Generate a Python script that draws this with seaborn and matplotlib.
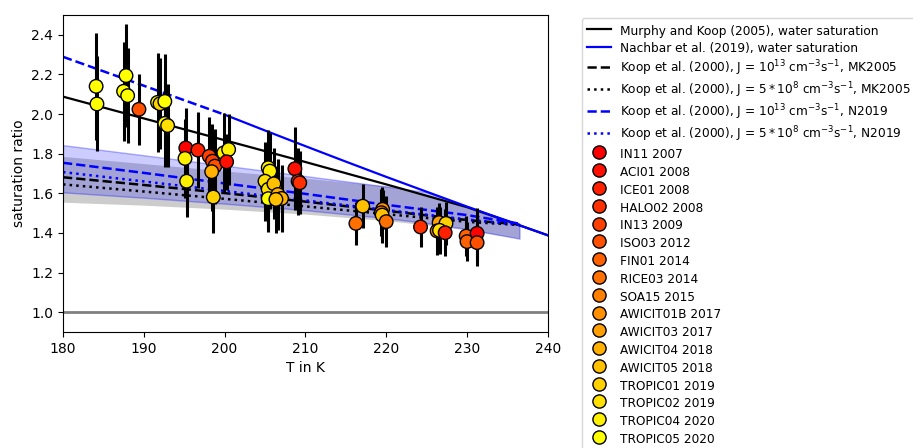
import numpy as np
import pandas as pd
import matplotlib
matplotlib.use("Agg")
import matplotlib.pyplot as plt
import seaborn as sns
from matplotlib.lines import Line2D

# ---------------- data ----------------
campaigns = ["IN11 2007", "ACI01 2008", "ICE01 2008", "HALO02 2008", "IN13 2009",
             "ISO03 2012", "FIN01 2014", "RICE03 2014", "SOA15 2015", "AWICIT01B 2017",
             "AWICIT03 2017", "AWICIT04 2018", "AWICIT05 2018", "TROPIC01 2019",
             "TROPIC02 2019", "TROPIC04 2020", "TROPIC05 2020"]

pt_campaign = [
    "TROPIC05 2020", "TROPIC05 2020",
    "TROPIC05 2020", "TROPIC05 2020", "TROPIC05 2020",
    "ISO03 2012",
    "TROPIC05 2020", "TROPIC01 2019", "TROPIC05 2020", "TROPIC05 2020", "TROPIC02 2019",
    "IN11 2007", "TROPIC04 2020", "TROPIC04 2020",
    "ICE01 2008",
    "IN13 2009", "IN13 2009", "ISO03 2012", "AWICIT04 2018", "TROPIC01 2019",
    "TROPIC04 2020", "TROPIC04 2020", "ACI01 2008",
    "TROPIC04 2020", "TROPIC04 2020", "TROPIC02 2019", "TROPIC02 2019", "TROPIC05 2020",
    "AWICIT05 2018", "AWICIT04 2018", "AWICIT04 2018", "AWICIT05 2018",
    "ACI01 2008", "HALO02 2008", "HALO02 2008",
    "RICE03 2014", "AWICIT05 2018",
    "AWICIT01B 2017", "SOA15 2015", "AWICIT05 2018", "RICE03 2014",
    "HALO02 2008",
    "AWICIT03 2017", "SOA15 2015", "TROPIC01 2019", "TROPIC02 2019", "ICE01 2008",
    "FIN01 2014", "FIN01 2014",
    "IN11 2007", "ISO03 2012",
]
pt_T = [
    184.1, 184.2,
    187.8, 187.5, 188.0,
    189.4,
    191.7, 192.0, 192.6, 192.6, 192.95,
    195.2, 195.1, 195.3,
    196.7,
    198.1, 198.5, 198.8, 198.4, 198.6,
    199.9, 200.5, 200.25,
    205.4, 205.6, 205.0, 205.4, 205.4,
    206.1, 206.6, 207.05, 206.35,
    208.7, 209.1, 209.3,
    216.25, 217.1,
    219.55, 219.4, 219.5, 220.0,
    224.25,
    226.55, 226.3, 227.4, 226.6, 227.3,
    229.9, 230.0,
    231.25, 231.25,
]
pt_S = [
    2.140, 2.051,
    2.194, 2.115, 2.093,
    2.024,
    2.059, 2.052, 2.064, 1.953, 1.942,
    1.829, 1.776, 1.661,
    1.818,
    1.787, 1.762, 1.737, 1.709, 1.581,
    1.804, 1.821, 1.759,
    1.729, 1.712, 1.661, 1.620, 1.573,
    1.648, 1.594, 1.574, 1.569,
    1.724, 1.661, 1.653,
    1.448, 1.535,
    1.519, 1.502, 1.490, 1.457,
    1.430,
    1.452, 1.410, 1.448, 1.413, 1.401,
    1.384, 1.356,
    1.398, 1.351,
]
pt_err = [
    0.27, 0.24,
    0.26, 0.25, 0.24,
    0.18,
    0.25, 0.23, 0.24, 0.22, 0.21,
    0.20, 0.20, 0.18,
    0.19,
    0.20, 0.19, 0.19, 0.20, 0.18,
    0.20, 0.18, 0.14,
    0.19, 0.19, 0.20, 0.20, 0.17,
    0.18, 0.18, 0.17, 0.17,
    0.21, 0.17, 0.16,
    0.11, 0.11,
    0.10, 0.12, 0.14, 0.13,
    0.10,
    0.10, 0.12, 0.11, 0.12, 0.12,
    0.10, 0.10,
    0.13, 0.12,
]

# water saturation lines
mk_T = [180, 190, 200, 210, 220, 230, 235, 240]
mk_S = [2.088, 1.978, 1.868, 1.758, 1.645, 1.530, 1.460, 1.388]
nb_T = [200, 205, 210, 215, 220, 225, 230, 235, 240]
nb_S = [1.997, 1.917, 1.838, 1.760, 1.683, 1.608, 1.533, 1.460, 1.388]
nbx_T = [180, 190, 200]
nbx_S = [2.289, 2.143, 1.997]

# Koop et al. (2000) lines
kmk_hi_T = [180, 190, 200, 210, 220, 230, 236.2]
kmk_hi_S = [1.681, 1.642, 1.601, 1.558, 1.512, 1.465, 1.444]
kmk_lo_T = [180, 190, 200, 210, 220, 230, 236.5]
kmk_lo_S = [1.645, 1.609, 1.572, 1.534, 1.495, 1.456, 1.440]
knb_hi_T = [180, 190, 200, 210, 220, 230, 236.3]
knb_hi_S = [1.754, 1.703, 1.650, 1.597, 1.542, 1.490, 1.448]
knb_lo_T = [180, 190, 200, 210, 220, 230, 236.6]
knb_lo_S = [1.707, 1.660, 1.612, 1.564, 1.516, 1.468, 1.440]

# uncertainty bands
band_T = [180, 190, 200, 210, 220, 225, 230, 236.5]
blue_up = [1.843, 1.792, 1.740, 1.687, 1.634, 1.606, 1.533, 1.447]
blue_lo = [1.605, 1.578, 1.548, 1.515, 1.475, 1.450, 1.420, 1.371]
grey_up = [1.786, 1.750, 1.713, 1.676, 1.638, 1.585, 1.528, 1.445]
grey_lo = [1.555, 1.540, 1.520, 1.495, 1.462, 1.440, 1.415, 1.372]

# ---------------- plot ----------------
fig = plt.figure(figsize=(9.13, 4.48), dpi=100)
ax = fig.add_axes([0.069, 0.259, 0.531, 0.7075])

palette = {c: plt.cm.autumn(i / (len(campaigns) - 1)) for i, c in enumerate(campaigns)}

ax.axhline(1.0, color="grey", lw=2, zorder=1)

ax.fill_between(band_T, grey_lo, grey_up, color="k", alpha=0.2, lw=0, zorder=1)
ax.fill_between(band_T, blue_lo, blue_up, facecolor=(0, 0, 1, 0.2),
                edgecolor=(0, 0, 1, 0.3), lw=1, zorder=1)

sns.lineplot(x=mk_T, y=mk_S, color="k", lw=1.6, ax=ax, zorder=2)
sns.lineplot(x=nb_T, y=nb_S, color="blue", lw=1.6, ax=ax, zorder=2)
sns.lineplot(x=nbx_T, y=nbx_S, color="blue", lw=1.8, linestyle="--", ax=ax, zorder=2)
sns.lineplot(x=kmk_hi_T, y=kmk_hi_S, color="k", lw=1.8, linestyle="--", ax=ax, zorder=2)
sns.lineplot(x=kmk_lo_T, y=kmk_lo_S, color="k", lw=1.8, linestyle=":", ax=ax, zorder=2)
sns.lineplot(x=knb_hi_T, y=knb_hi_S, color="blue", lw=1.8, linestyle="--", ax=ax, zorder=2)
sns.lineplot(x=knb_lo_T, y=knb_lo_S, color="blue", lw=1.8, linestyle=":", ax=ax, zorder=2)

df = pd.DataFrame({"T": pt_T, "S": pt_S, "err": pt_err, "campaign": pt_campaign})
ax.errorbar(df["T"], df["S"], yerr=df["err"], fmt="none", ecolor="k", elinewidth=2.2,
            capsize=0, zorder=3)
sns.scatterplot(data=df, x="T", y="S", hue="campaign", palette=palette,
                hue_order=campaigns, s=95, edgecolor="k", linewidth=1.0,
                legend=False, ax=ax, zorder=4)

ax.set_xlim(180, 240)
ax.set_ylim(0.9, 2.5)
ax.set_xticks(np.arange(180, 241, 10))
ax.set_yticks(np.arange(1.0, 2.41, 0.2))
ax.set_xlabel("T in K", fontsize=10)
ax.set_ylabel("saturation ratio", fontsize=10)
ax.tick_params(labelsize=10)

handles = [
    Line2D([], [], color="k", lw=1.6),
    Line2D([], [], color="blue", lw=1.6),
    Line2D([], [], color="k", lw=1.8, linestyle="--"),
    Line2D([], [], color="k", lw=1.8, linestyle=":"),
    Line2D([], [], color="blue", lw=1.8, linestyle="--"),
    Line2D([], [], color="blue", lw=1.8, linestyle=":"),
]
labels = [
    "Murphy and Koop (2005), water saturation",
    "Nachbar et al. (2019), water saturation",
    r"Koop et al. (2000), J = $10^{13}$ cm$^{-3}$s$^{-1}$, MK2005",
    r"Koop et al. (2000), J = $5*10^{8}$ cm$^{-3}$s$^{-1}$, MK2005",
    r"Koop et al. (2000), J = $10^{13}$ cm$^{-3}$s$^{-1}$, N2019",
    r"Koop et al. (2000), J = $5*10^{8}$ cm$^{-3}$s$^{-1}$, N2019",
]
for c in campaigns:
    handles.append(Line2D([], [], linestyle="none", marker="o", markersize=9.5,
                          markerfacecolor=palette[c], markeredgecolor="k",
                          markeredgewidth=1.0))
    labels.append(c)

ax.legend(handles, labels, loc="upper left", bbox_to_anchor=(1.07, 0.99),
          fontsize=8.7, borderaxespad=0, labelspacing=0.2, handleheight=1.58)

fig.savefig("out.png", dpi=100)
